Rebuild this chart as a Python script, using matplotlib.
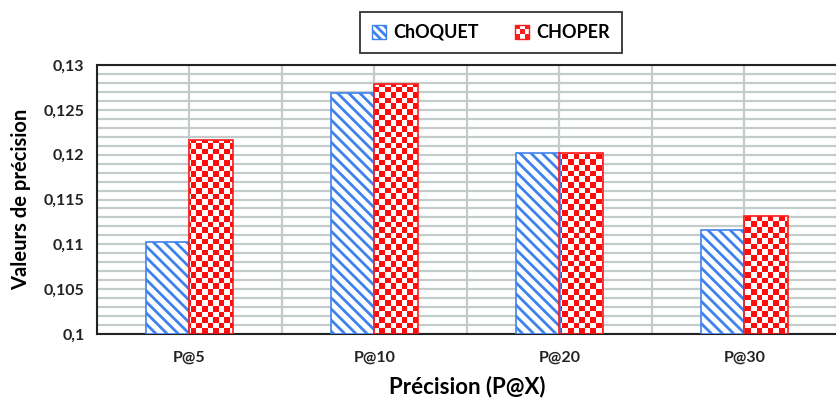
import matplotlib
matplotlib.use("Agg")
import matplotlib.pyplot as plt
import numpy as np
from matplotlib.patches import Patch, Rectangle
from matplotlib.legend_handler import HandlerBase

# donnees
categories = ["P@5", "P@10", "P@20", "P@30"]
choquet = [0.1103, 0.1269, 0.1202, 0.1116]
choper = [0.1216, 0.1279, 0.1202, 0.1132]
yticks = [0.1, 0.105, 0.11, 0.115, 0.12, 0.125, 0.13]
ytick_labels = ["0,1", "0,105", "0,11", "0,115", "0,12", "0,125", "0,13"]

BLUE = "#3f82ee"
RED = "#ff1a1a"
plt.rcParams["font.family"] = ["Lato", "DejaVu Sans"]
plt.rcParams["hatch.linewidth"] = 2.0


class CheckerHandler(HandlerBase):
    # petit damier pour la legende
    def create_artists(self, legend, orig_handle, xdescent, ydescent, width, height, fontsize, trans):
        s = min(width, height)
        x0 = -xdescent + (width - s) / 2
        y0 = -ydescent + (height - s) / 2
        arts = [Rectangle((x0, y0), s, s, facecolor="white", edgecolor=RED, lw=1, transform=trans)]
        n = 3
        c = s / n
        for i in range(n):
            for j in range(n):
                if (i + j) % 2 == 0:
                    arts.append(Rectangle((x0 + i * c, y0 + j * c), c, c, facecolor=RED,
                                          edgecolor="none", transform=trans))
        return arts


fig = plt.figure(figsize=(8.37, 4.0), dpi=100)
ax = fig.add_axes([97 / 837, 66 / 400, 740 / 837, 269 / 400])

x = np.arange(len(categories))
w = 0.235
xmin, xmax = -0.5, -0.5 + 740 / 187
ymin, ymax = 0.1, 0.13

b1 = ax.bar(x - w / 2, [v - ymin for v in choquet], w, bottom=ymin, facecolor="white",
            edgecolor=BLUE, hatch="\\\\\\", linewidth=1.2, zorder=3)
b2 = ax.bar(x + w / 2, [v - ymin for v in choper], w, bottom=ymin, facecolor="none",
            edgecolor=RED, linewidth=1.2, zorder=3)

# damier rouge dans les barres CHOPER
nx, ny = 132, 48
ii, jj = np.meshgrid(np.arange(nx), np.arange(ny))
checker = np.ones((ny, nx, 3))
mask = (ii + jj) % 2 == 0
checker[mask] = [1.0, 0.05, 0.05]
for bar in b2:
    im = ax.imshow(checker, extent=[xmin, xmax, ymin, ymax], aspect="auto",
                   interpolation="nearest", zorder=2.5)
    im.set_clip_path(bar)

ax.set_xlim(xmin, xmax)
ax.set_ylim(ymin, ymax)

ax.set_yticks(yticks)
ax.set_yticklabels(ytick_labels)
ax.set_yticks(np.arange(0.1, 0.1301, 0.001), minor=True)
ax.set_xticks(x)
ax.set_xticklabels(categories)
ax.set_xticks(np.arange(0.5, 3.6, 1.0), minor=True)
ax.tick_params(which="both", length=0)
ax.tick_params(axis="y", pad=9, labelsize=11.5)
ax.tick_params(axis="x", pad=12, labelsize=11.5)
for lab in ax.get_xticklabels() + ax.get_yticklabels():
    lab.set_fontweight("bold")
    lab.set_color("#222222")

ax.grid(True, which="both", axis="both", color="#c3cbcb", linewidth=1.6, zorder=0)
ax.set_axisbelow(True)

for side in ["left", "top", "bottom"]:
    ax.spines[side].set_linewidth(1.5)
    ax.spines[side].set_color("#222222")
ax.spines["right"].set_visible(False)

ax.set_ylabel("Valeurs de précision", fontsize=14.5, fontweight="bold", labelpad=9)
ax.set_xlabel("Précision (P@X)", fontsize=16, fontweight="bold", labelpad=8)

h1 = Patch(facecolor="white", edgecolor=BLUE, hatch="\\\\\\\\", linewidth=1)
h2 = Patch(facecolor="white", edgecolor=RED)
leg = fig.legend([h1, h2], ["ChOQUET", "CHOPER"], handler_map={h2: CheckerHandler()},
                 loc="center", bbox_to_anchor=(491 / 837, 1 - 32.5 / 400), ncol=2,
                 frameon=True, fancybox=False, edgecolor="black", handlelength=0.8,
                 handleheight=0.8, handletextpad=0.4, columnspacing=2.0,
                 borderpad=0.65, borderaxespad=0, prop={"weight": "bold", "size": 13})
leg.get_frame().set_linewidth(1.3)

fig.savefig("out.png", dpi=100)
